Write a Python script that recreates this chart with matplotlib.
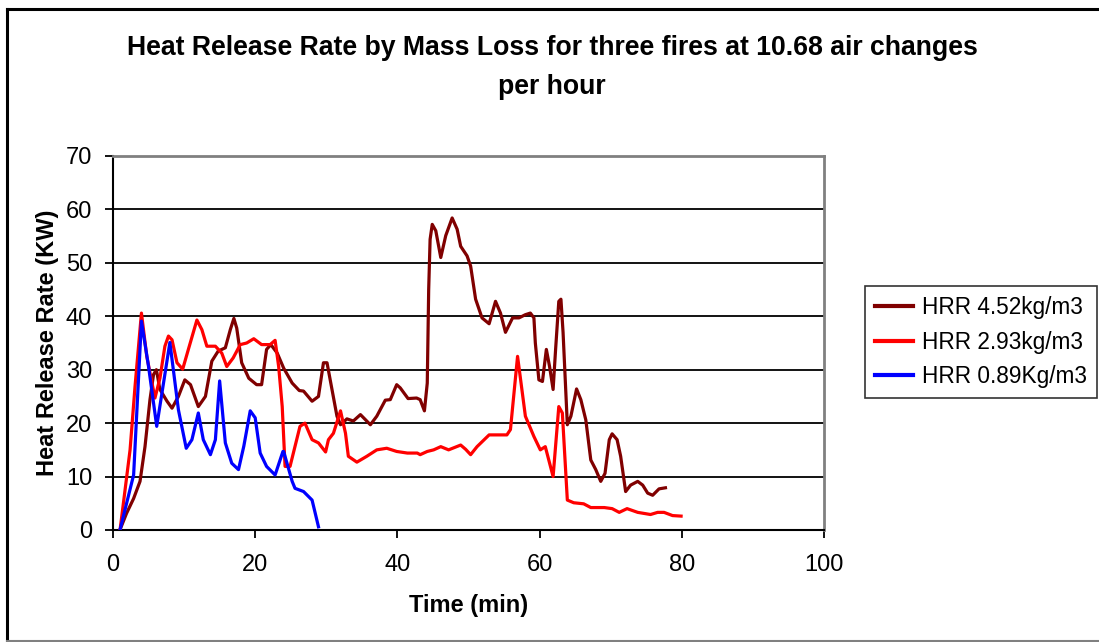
import matplotlib
matplotlib.use("Agg")
import matplotlib.pyplot as plt
from matplotlib.lines import Line2D

# ---- data ----
t_452 = [1.0, 1.9, 2.9, 3.8, 4.5, 5.2, 5.7, 6.1, 6.6, 7.6, 8.3, 9.2, 10.1, 10.9, 12.0, 13.0,
         13.9, 14.8, 15.8, 16.5, 17.0, 17.4, 18.1, 19.1, 20.2, 20.9, 21.6, 22.2, 23.1, 24.0,
         25.2, 26.2, 26.8, 28.0, 28.9, 29.6, 30.1, 30.8, 31.5, 32.0, 32.9, 33.8, 34.8, 36.2,
         37.1, 38.3, 39.0, 39.9, 40.4, 41.5, 42.7, 43.2, 43.8, 44.2, 44.4, 44.6, 44.9, 45.4,
         46.1, 46.8, 47.7, 48.4, 48.9, 49.8, 50.3, 51.0, 51.9, 52.9, 53.8, 54.5, 55.2, 56.2,
         57.1, 58.0, 58.7, 59.2, 59.4, 59.9, 60.4, 60.95, 61.4, 61.9, 62.25, 62.7, 63.0, 63.3,
         63.9, 64.4, 65.2, 65.8, 66.5, 67.2, 67.9, 68.6, 69.2, 69.8, 70.2, 70.9, 71.4, 72.1,
         72.8, 73.8, 74.5, 75.2, 75.9, 76.8, 77.7]
hrr_452 = [0.1, 3.1, 5.9, 9.1, 15.6, 24.4, 29.1, 30.0, 26.3, 24.1, 22.8, 25.0, 28.1, 27.2, 23.1, 25.0,
           31.6, 33.5, 34.1, 37.5, 39.6, 37.8, 31.3, 28.4, 27.2, 27.2, 33.8, 34.7, 33.1, 30.3,
           27.5, 26.1, 26.0, 24.1, 25.0, 31.3, 31.3, 26.3, 21.3, 19.7, 20.8, 20.4, 21.6, 19.7,
           21.3, 24.3, 24.4, 27.2, 26.6, 24.6, 24.7, 24.4, 22.3, 27.5, 45.0, 54.4, 57.2, 56.0,
           51.0, 55.1, 58.4, 56.3, 53.1, 51.3, 49.4, 43.2, 39.7, 38.6, 42.8, 40.6, 37.0, 39.7,
           39.7, 40.3, 40.6, 39.7, 35.0, 28.1, 27.8, 33.8, 30.6, 26.3, 33.8, 42.8, 43.2, 37.0,
           19.7, 21.3, 26.4, 24.4, 20.6, 13.1, 11.3, 9.1, 10.6, 16.9, 18.0, 16.9, 13.8, 7.2,
           8.4, 9.1, 8.4, 6.9, 6.5, 7.7, 7.9]

t_293 = [1.0, 2.4, 3.1, 4.0, 4.75, 5.9, 6.6, 7.3, 7.8, 8.3, 9.0, 9.8, 10.6, 11.8, 12.5, 13.2,
         14.4, 15.3, 16.0, 16.9, 17.9, 18.8, 19.8, 20.9, 22.1, 22.8, 23.3, 23.8, 24.2, 24.9,
         26.3, 27.0, 28.0, 28.9, 29.9, 30.3, 31.0, 32.0, 32.7, 33.1, 34.3, 35.7, 37.1, 38.5,
         39.9, 41.4, 42.8, 43.2, 44.2, 45.1, 46.1, 47.2, 48.9, 49.6, 50.3, 51.2, 52.9, 55.4,
         55.9, 56.9, 58.0, 59.2, 60.1, 60.8, 61.9, 62.7, 63.2, 63.9, 64.8, 66.2, 67.2, 69.1,
         70.2, 71.2, 72.3, 73.8, 75.6, 76.6, 77.5, 78.7, 79.9]
hrr_293 = [0.1, 15.0, 26.9, 40.6, 32.5, 24.7, 28.4, 34.4, 36.3, 35.6, 31.3, 30.1, 33.8, 39.3, 37.5, 34.4,
           34.4, 33.1, 30.6, 32.2, 34.7, 35.0, 35.8, 34.7, 34.7, 35.5, 30.6, 23.1, 11.9, 11.9,
           19.4, 20.0, 16.9, 16.3, 14.6, 16.9, 18.1, 22.3, 18.1, 13.8, 12.7, 13.8, 15.0, 15.3,
           14.7, 14.4, 14.4, 14.1, 14.7, 15.0, 15.6, 15.0, 15.9, 15.1, 14.1, 15.6, 17.8, 17.8,
           18.8, 32.5, 21.3, 17.5, 15.0, 15.6, 10.0, 23.1, 21.9, 5.6, 5.1, 4.9, 4.2, 4.2,
           4.0, 3.3, 4.0, 3.3, 2.9, 3.3, 3.3, 2.7, 2.6]

t_089 = [1.0, 2.9, 4.0, 5.0, 6.15, 8.0, 9.2, 10.3, 11.1, 12.0, 12.7, 13.7, 14.4, 15.0, 15.8,
         16.7, 17.65, 18.4, 19.3, 20.0, 20.7, 21.6, 22.8, 23.9, 24.0, 25.2, 25.6, 26.8, 28.0, 28.9]
hrr_089 = [0.1, 10.3, 39.1, 30.6, 19.4, 35.1, 22.5, 15.3, 16.9, 21.9, 16.9, 14.1, 16.9, 27.9, 16.3,
           12.5, 11.3, 15.7, 22.3, 21.0, 14.4, 11.9, 10.3, 14.7, 14.7, 9.1, 7.8, 7.2, 5.6, 0.6]

series_labels = ["HRR 4.52kg/m3", "HRR 2.93kg/m3", "HRR 0.89Kg/m3"]
title_text = "Heat Release Rate by Mass Loss for three fires at 10.68 air changes\nper hour"
x_label = "Time (min)"
y_label = "Heat Release Rate (KW)"
x_ticks = [0, 20, 40, 60, 80, 100]
y_ticks = [0, 10, 20, 30, 40, 50, 60, 70]

plt.rcParams['font.family'] = ['Liberation Sans', 'DejaVu Sans']

W, H = 1099, 642
fig = plt.figure(figsize=(W / 100, H / 100), dpi=100)

# outer chart frame
fig.add_artist(Line2D([7 / W, 7 / W], [0, 1 - 9 / H], transform=fig.transFigure, color='black', lw=2.2))
fig.add_artist(Line2D([7 / W, 1], [1 - 9 / H, 1 - 9 / H], transform=fig.transFigure, color='black', lw=2.2))
fig.add_artist(Line2D([7 / W, 1], [1 / H, 1 / H], transform=fig.transFigure, color='#808080', lw=1.5))

left, right, top, bottom = 113, 824, 156, 530
ax = fig.add_axes([left / W, 1 - bottom / H, (right - left) / W, (bottom - top) / H])

ax.plot(t_452, hrr_452, color='#800000', lw=2.3, label=series_labels[0], zorder=3)
ax.plot(t_293, hrr_293, color='#ff0000', lw=2.3, label=series_labels[1], zorder=4)
ax.plot(t_089, hrr_089, color='#0000ff', lw=2.3, label=series_labels[2], zorder=5)

ax.set_xlim(0, 100)
ax.set_ylim(0, 70)
ax.set_xticks(x_ticks)
ax.set_yticks(y_ticks)
ax.yaxis.grid(True, color='black', lw=1.3)
ax.set_axisbelow(True)

for side in ['top', 'right']:
    ax.spines[side].set_color('#808080')
    ax.spines[side].set_linewidth(2)
for side in ['left', 'bottom']:
    ax.spines[side].set_color('black')
    ax.spines[side].set_linewidth(1.5)

ax.tick_params(axis='both', direction='out', length=6, width=1.3, labelsize=17, colors='black')
ax.tick_params(axis='x', pad=11)
ax.tick_params(axis='y', pad=9)

ax.set_xlabel(x_label, fontsize=17, fontweight='bold', labelpad=13)
ax.set_ylabel(y_label, fontsize=17, fontweight='bold', labelpad=5)

fig.text(552 / W, 1 - 67.5 / H, title_text, ha='center', va='center', fontsize=19.2,
         fontweight='bold', linespacing=1.67)

leg = ax.legend(loc='upper left', bbox_to_anchor=(865 / W, 1 - 286 / H), bbox_transform=fig.transFigure,
                frameon=True, fancybox=False, fontsize=16.3, handlelength=1.65, handletextpad=0.4,
                borderpad=0.45, labelspacing=0.5, borderaxespad=0)
leg.get_frame().set_edgecolor('black')
leg.get_frame().set_linewidth(1.2)
for line in leg.get_lines():
    line.set_linewidth(3)

fig.savefig('out.png', dpi=100)
